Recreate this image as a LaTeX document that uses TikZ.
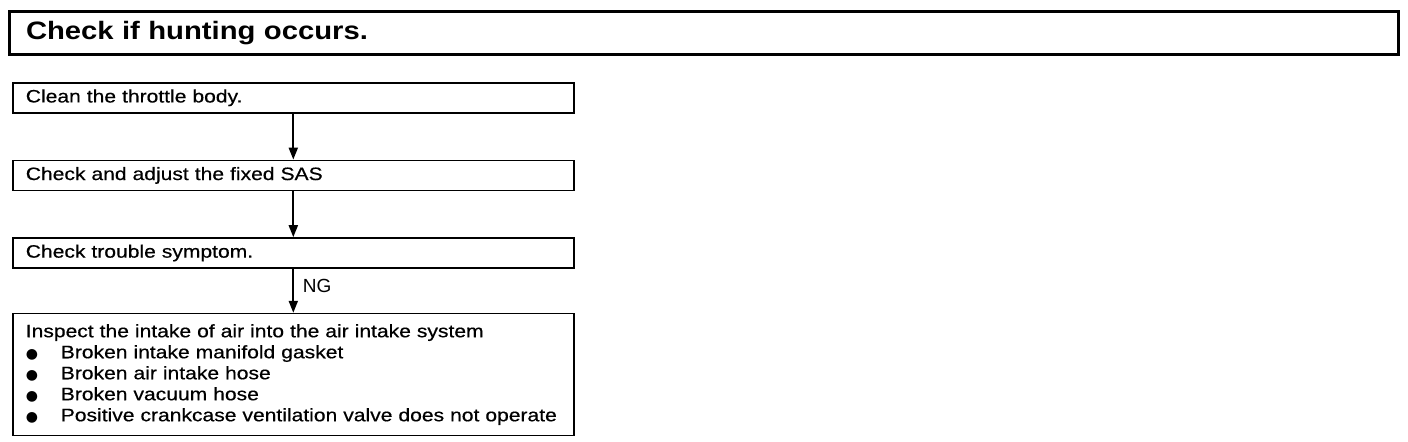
\documentclass[tikz,border=0pt]{standalone}
\usepackage{fontspec}
\setmainfont{Liberation Sans}
\newfontfamily\boitefont[FakeStretch=1.17, WordSpace=1.35, FakeBold=0.5]{Liberation Sans}
\newfontfamily\titrefont[FakeStretch=1.16]{Liberation Sans}
\newfontfamily\pucefont{DejaVu Sans}
\usetikzlibrary{arrows.meta, positioning}
\newcommand{\puce}{\makebox[17.5pt][l]{\pucefont\fontsize{7}{7}\selectfont ●}}

\begin{document}
\begin{tikzpicture}[
  titre/.style={draw, line width=1.5pt, anchor=north west, minimum width=694.5pt, minimum height=21.5pt, inner xsep=8pt, align=left, text width=678pt, font=\titrefont\bfseries\fontsize{12.6}{14}\selectfont},
  bloc/.style={draw, line width=0.8pt, minimum height=15pt, inner xsep=6.5pt, inner ysep=3pt, text width=267.5pt, align=left, font=\boitefont\fontsize{9}{10.5}\selectfont},
  fleche/.style={-{Triangle[length=6pt,width=4.5pt]}, line width=1pt}
]
  \useasboundingbox (0,0) rectangle (704pt,-221pt);
  \node[titre] (hunt) at (4pt,-5pt) {Check if hunting occurs.};
  \node[bloc, anchor=north west] (clean) at (6pt,-41pt) {Clean the throttle body.};
  \node[bloc, below=23pt of clean] (sas) {Check and adjust the fixed SAS};
  \node[bloc, below=23pt of sas] (symp) {Check trouble symptom.};
  \node[bloc, below=22pt of symp, minimum height=61pt] (air) {Inspect the intake of air into the air intake system\\
    \puce Broken intake manifold gasket\\
    \puce Broken air intake hose\\
    \puce Broken vacuum hose\\
    \puce Positive crankcase ventilation valve does not operate};
  \draw[fleche] (clean) -- (sas);
  \draw[fleche] (sas) -- (symp);
  \draw[fleche] (symp) -- node[right=1pt, pos=0.4, font=\fontsize{9.5}{10}\selectfont] (ng) {NG} (air);
\end{tikzpicture}
\end{document}
